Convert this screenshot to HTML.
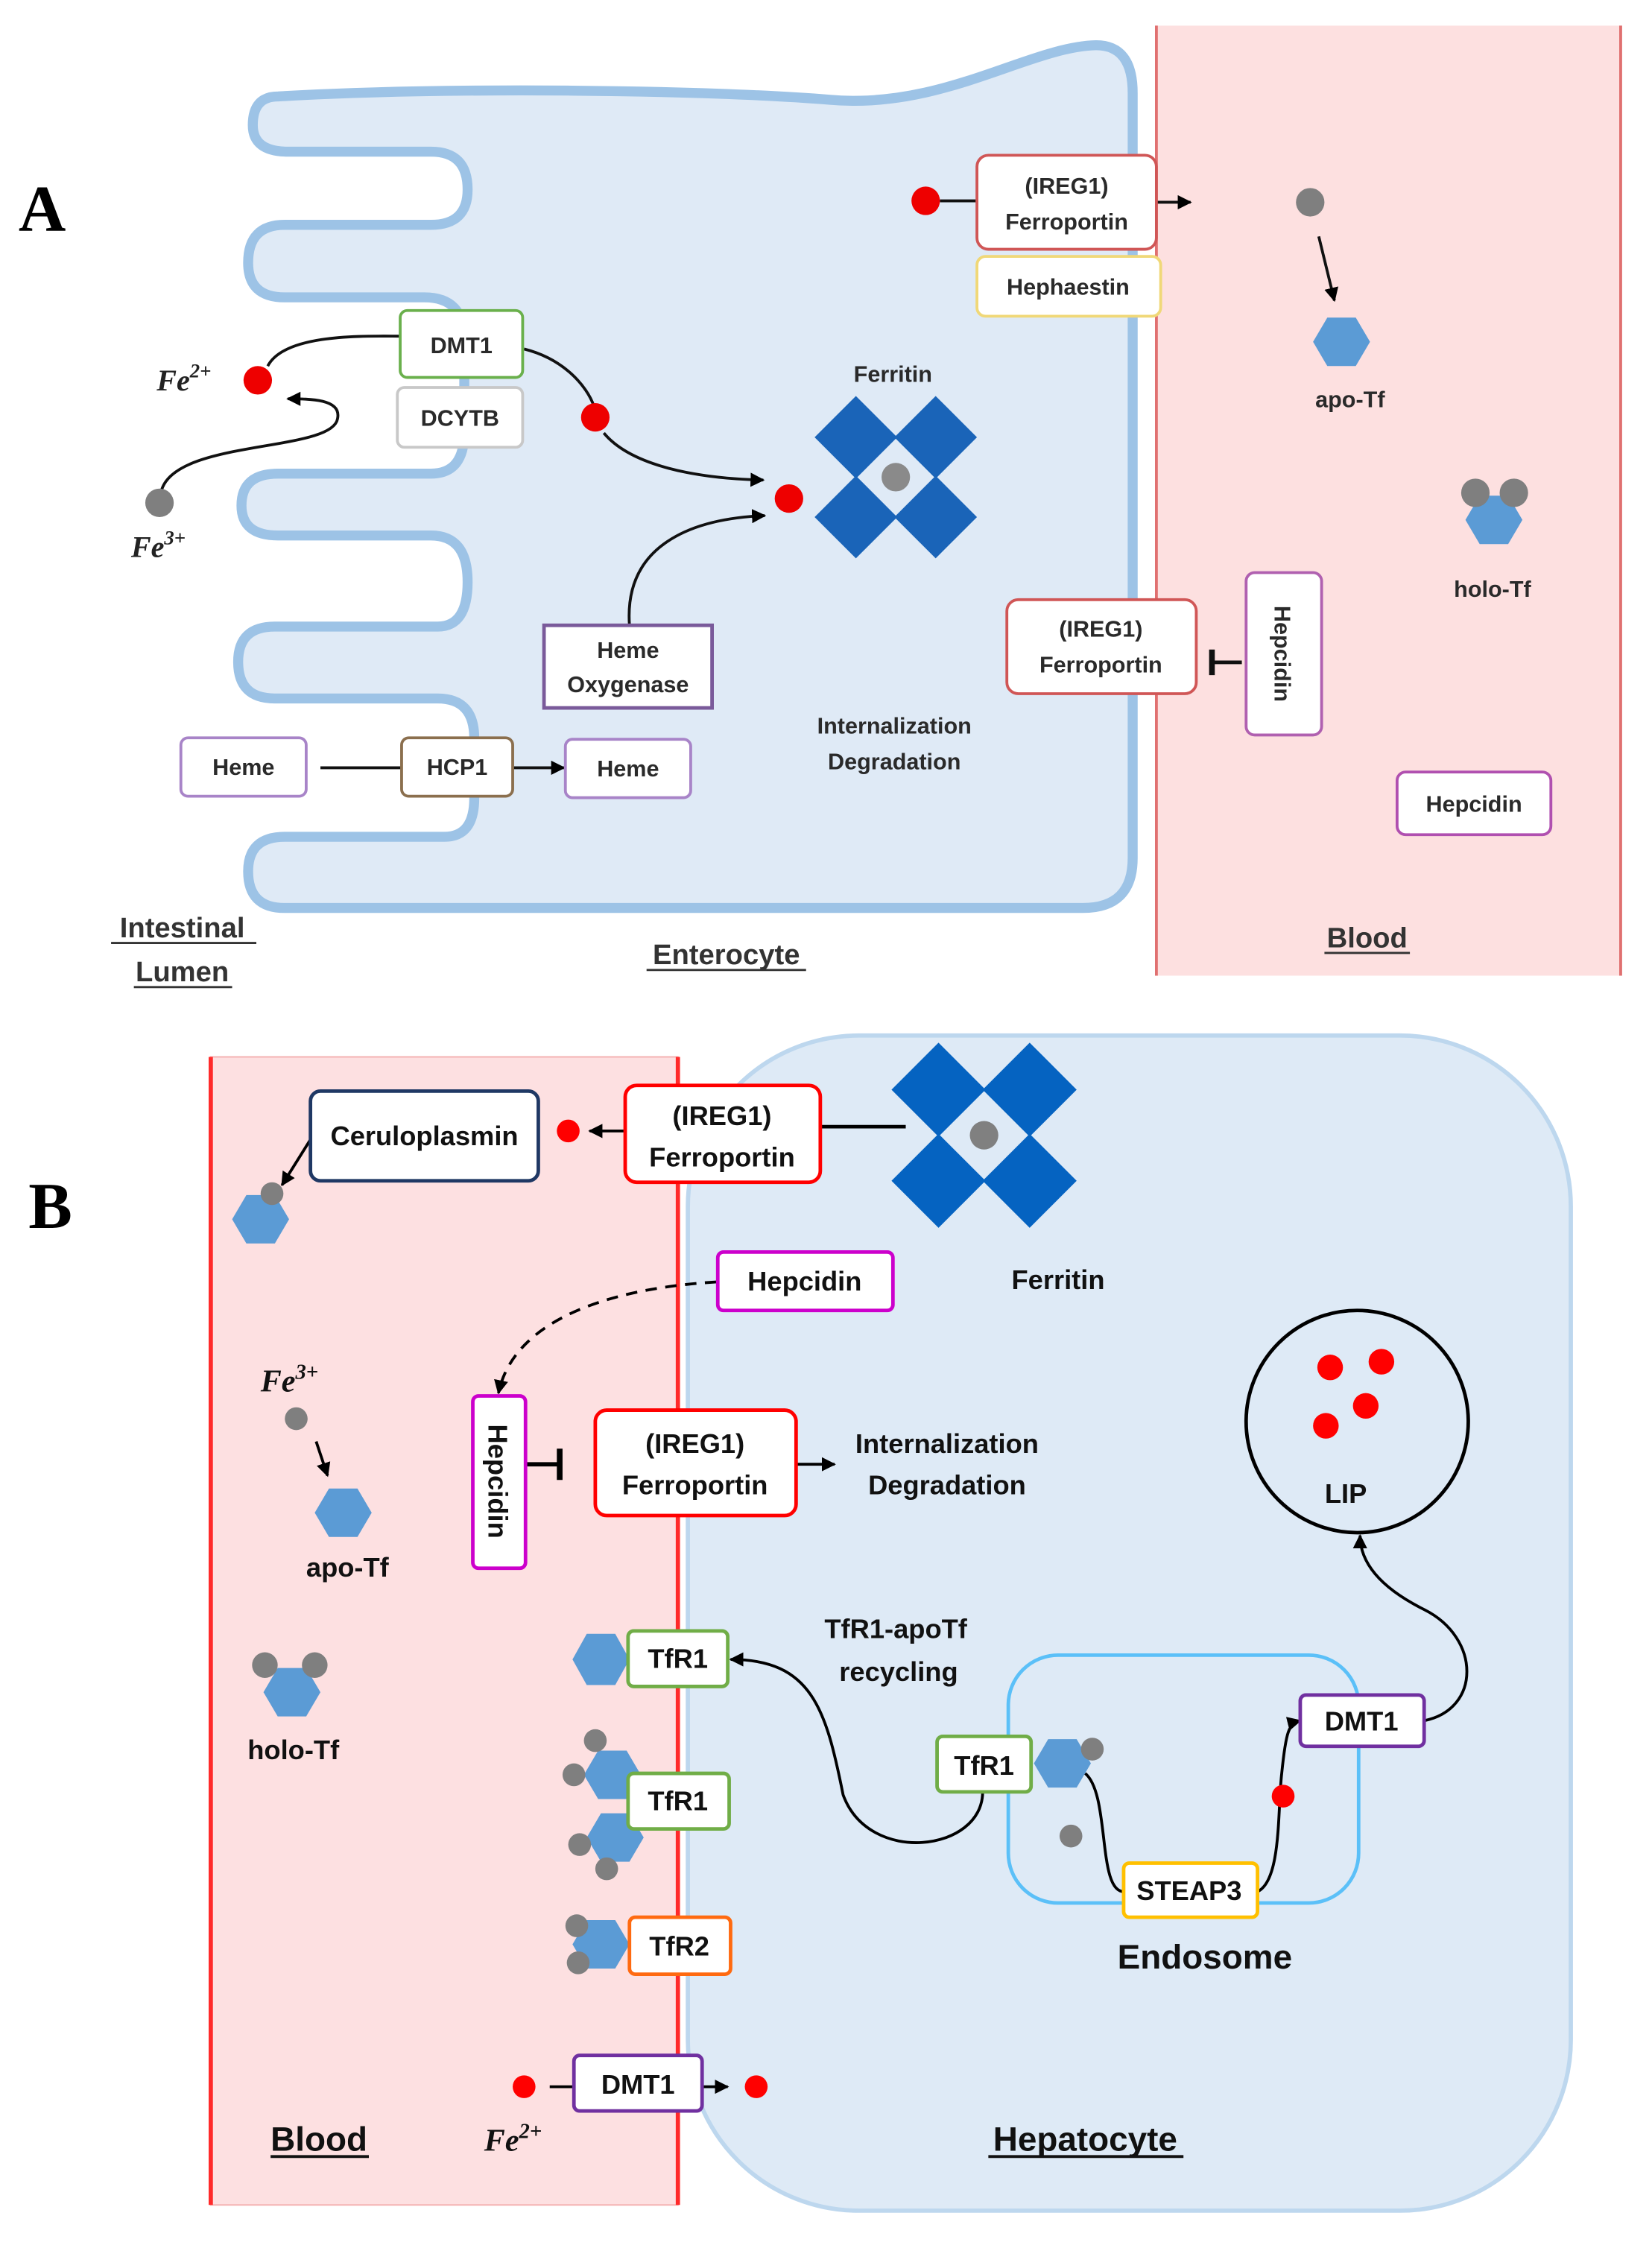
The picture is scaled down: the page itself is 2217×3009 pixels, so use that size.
<!DOCTYPE html>
<html><head><meta charset="utf-8"><style>html,body{margin:0;padding:0;background:#fff}svg{display:block}</style></head>
<body>
<svg width="2217" height="3009" viewBox="0 0 1160 1574" preserveAspectRatio="none" xmlns="http://www.w3.org/2000/svg" font-family="Liberation Sans, sans-serif" font-weight="bold">
<defs>
<marker id="ar" viewBox="0 0 10 10" refX="9" refY="5" markerWidth="5" markerHeight="5" orient="auto"><path d="M0,0 L10,5 L0,10 z" fill="#000"/></marker>
</defs>
<rect width="1160" height="1574" fill="#fff"/>

<!-- ============ PANEL A ============ -->
<text x="13" y="162" font-family="Liberation Serif, serif" font-size="46" fill="#000">A</text>
<rect x="812" y="18" width="327" height="667" fill="#fde0e0"/>
<line x1="812" y1="18" x2="812" y2="685" stroke="#e07070" stroke-width="2"/>
<line x1="1138" y1="18" x2="1138" y2="685" stroke="#e07070" stroke-width="2"/>

<g transform="translate(78.5,0) scale(0.467)">
<path d="M 250,145 C 500,130 900,135 1080,150 C 1250,165 1380,70 1480,68 Q 1535,68 1535,140 L 1535,1290 Q 1535,1365 1460,1365 L 260,1365 Q 205,1365 205,1310 Q 205,1258 260,1258 L 500,1258 Q 545,1258 545,1200 L 545,1110 Q 545,1050 490,1050 L 245,1050 Q 190,1050 190,995 Q 190,942 245,942 L 490,942 Q 535,942 535,875 Q 535,805 480,805 L 250,805 Q 195,805 195,760 Q 195,712 250,712 L 480,712 Q 530,712 530,650 L 530,510 Q 530,447 470,447 L 260,447 Q 205,447 205,395 Q 205,338 260,338 L 480,338 Q 535,338 535,285 Q 535,228 480,228 L 265,228 Q 212,228 212,188 Q 212,145 250,145 Z" fill="#dfeaf6" stroke="#9dc3e6" stroke-width="15"/>
</g>

<!-- connectors A -->
<g fill="none" stroke="#111" stroke-width="2">
<path d="M113,346 C120,308 233,318 237,294 C240,280 218,280 202,280" marker-end="url(#ar)"/>
<path d="M188,257 C200,234 256,236 281,236"/>
<path d="M368,245 C396,252 412,271 417,285"/>
<path d="M424,304 C443,327 489,336 536,337" marker-end="url(#ar)"/>
<path d="M442,439 C438,383 485,364 537,362" marker-end="url(#ar)"/>
<line x1="225" y1="539" x2="282" y2="539"/>
<line x1="360" y1="539" x2="396" y2="539" marker-end="url(#ar)"/>
<line x1="660" y1="141" x2="686" y2="141"/>
<line x1="812" y1="142" x2="836" y2="142" marker-end="url(#ar)"/>
<line x1="926" y1="166" x2="937" y2="211" marker-end="url(#ar)"/>
<line x1="872" y1="465" x2="851" y2="465" stroke-width="2.5"/>
<line x1="851" y1="456" x2="851" y2="474" stroke-width="4"/>
</g>

<!-- dots A -->
<circle cx="181" cy="267" r="10" fill="#e00"/>
<circle cx="112" cy="353" r="10" fill="#7f7f7f"/>
<circle cx="418" cy="293" r="10" fill="#e00"/>
<circle cx="554" cy="350" r="10" fill="#e00"/>
<circle cx="650" cy="141" r="10" fill="#e00"/>
<circle cx="920" cy="142" r="10" fill="#7f7f7f"/>

<text x="110" y="274" font-family="Liberation Serif, serif" font-style="italic" font-size="21" fill="#222">Fe<tspan font-size="14" dy="-9">2+</tspan></text>
<text x="92" y="391" font-family="Liberation Serif, serif" font-style="italic" font-size="21" fill="#222">Fe<tspan font-size="14" dy="-9">3+</tspan></text>

<!-- ferritin A -->
<g fill="#1a64b8">
<polygon points="601,278 630,307 601,336 572,307"/>
<polygon points="657,278 686,307 657,336 628,307"/>
<polygon points="601,334 630,363 601,392 572,363"/>
<polygon points="657,334 686,363 657,392 628,363"/>
</g>
<circle cx="629" cy="335" r="10" fill="#8a8a8a"/>

<!-- boxes A -->
<g stroke-width="2" fill="#fff">
<rect x="281" y="218" width="86" height="47" rx="5" stroke="#6ab04c"/>
<rect x="279" y="272" width="88" height="42" rx="5" stroke="#c8c8c8"/>
<rect x="382" y="439" width="118" height="58" stroke="#7a5a9a" stroke-width="2.5"/>
<rect x="127" y="518" width="88" height="41" rx="5" stroke="#a884c8"/>
<rect x="282" y="518" width="78" height="41" rx="5" stroke="#8b6f4e"/>
<rect x="397" y="519" width="88" height="41" rx="5" stroke="#a884c8"/>
<rect x="686" y="109" width="126" height="66" rx="8" stroke="#d05656"/>
<rect x="686" y="180" width="129" height="42" rx="6" stroke="#f0d878"/>
<rect x="707" y="421" width="133" height="66" rx="8" stroke="#d05656"/>
<rect x="875" y="402" width="53" height="114" rx="6" stroke="#b060b0"/>
<rect x="981" y="542" width="108" height="44" rx="6" stroke="#b050b0"/>
</g>

<g font-size="16" fill="#2a2a2a" text-anchor="middle">
<text x="324" y="248">DMT1</text>
<text x="323" y="299">DCYTB</text>
<text x="441" y="462">Heme</text>
<text x="441" y="486">Oxygenase</text>
<text x="171" y="544">Heme</text>
<text x="321" y="544">HCP1</text>
<text x="441" y="545">Heme</text>
<text x="627" y="268">Ferritin</text>
<text x="628" y="515">Internalization</text>
<text x="628" y="540">Degradation</text>
<text x="749" y="136">(IREG1)</text>
<text x="749" y="161">Ferroportin</text>
<text x="750" y="207">Hephaestin</text>
<text x="773" y="447">(IREG1)</text>
<text x="773" y="472">Ferroportin</text>
<text x="1035" y="570">Hepcidin</text>
<text x="948" y="286">apo-Tf</text>
<text x="1048" y="419">holo-Tf</text>
<text transform="translate(895,459) rotate(90)">Hepcidin</text>
</g>

<polygon points="922,240 932,223 952,223 962,240 952,257 932,257" fill="#5b9bd5"/>
<polygon points="1029,365 1039,348 1059,348 1069,365 1059,382 1039,382" fill="#5b9bd5"/>
<circle cx="1036" cy="346" r="10" fill="#7f7f7f"/>
<circle cx="1063" cy="346" r="10" fill="#7f7f7f"/>

<g font-size="20" fill="#333" text-anchor="middle">
<text x="128" y="658">Intestinal</text>
<text x="128" y="689">Lumen</text>
<text x="510" y="677">Enterocyte</text>
<text x="960" y="665">Blood</text>
</g>
<g stroke="#333" stroke-width="1.5">
<line x1="78" y1="662" x2="180" y2="662"/>
<line x1="94" y1="693" x2="163" y2="693"/>
<line x1="454" y1="681" x2="566" y2="681"/>
<line x1="930" y1="669" x2="990" y2="669"/>
</g>

<!-- ============ PANEL B ============ -->
<text x="20" y="862" font-family="Liberation Serif, serif" font-size="46" fill="#000">B</text>
<rect x="483" y="727" width="620" height="825" rx="120" fill="#deeaf6" stroke="#bdd7ee" stroke-width="3"/>
<rect x="148" y="742" width="328" height="806" fill="#fde0e1" stroke="#f4b0b0" stroke-width="1"/>
<line x1="148" y1="742" x2="148" y2="1548" stroke="#ff2a2a" stroke-width="3"/>
<line x1="476" y1="742" x2="476" y2="1548" stroke="#ff2a2a" stroke-width="3"/>

<!-- endosome -->
<rect x="708" y="1162" width="246" height="174" rx="35" fill="none" stroke="#5bc0f8" stroke-width="2.5"/>
<!-- LIP -->
<circle cx="953" cy="998" r="78" fill="none" stroke="#000" stroke-width="2.5"/>
<circle cx="934" cy="960" r="9" fill="#f00"/>
<circle cx="970" cy="956" r="9" fill="#f00"/>
<circle cx="959" cy="987" r="9" fill="#f00"/>
<circle cx="931" cy="1001" r="9" fill="#f00"/>

<!-- ferritin B -->
<g fill="#0563c1">
<polygon points="659,732 692,765 659,798 626,765"/>
<polygon points="723,732 756,765 723,798 690,765"/>
<polygon points="659,796 692,829 659,862 626,829"/>
<polygon points="723,796 756,829 723,862 690,829"/>
</g>
<circle cx="691" cy="797" r="10" fill="#808080"/>

<!-- connectors B -->
<g fill="none" stroke="#000" stroke-width="2">
<path d="M218,800 L198,832" marker-end="url(#ar)"/>
<line x1="438" y1="794" x2="414" y2="794" marker-end="url(#ar)"/>
<line x1="576" y1="791" x2="636" y2="791" stroke-width="2.5"/>
<path d="M503,900 C420,905 360,930 350,978" stroke-dasharray="8,6" marker-end="url(#ar)"/>
<line x1="370" y1="1028" x2="393" y2="1028" stroke-width="3"/>
<line x1="393" y1="1017" x2="393" y2="1039" stroke-width="4"/>
<line x1="559" y1="1028" x2="586" y2="1028" marker-end="url(#ar)"/>
<line x1="222" y1="1012" x2="230" y2="1036" marker-end="url(#ar)"/>
<path d="M690,1258 C690,1300 610,1310 592,1260 C580,1200 570,1165 513,1165" marker-end="url(#ar)"/>
<path d="M762,1245 C780,1260 770,1330 790,1328"/>
<path d="M883,1328 C900,1320 897,1270 900,1245 C903,1215 905,1210 913,1208" marker-end="url(#ar)"/>
<path d="M1000,1208 C1040,1200 1040,1150 1000,1130 C960,1110 955,1090 955,1078" marker-end="url(#ar)"/>
<line x1="386" y1="1465" x2="403" y2="1465"/>
<line x1="493" y1="1465" x2="511" y2="1465" marker-end="url(#ar)"/>
</g>

<!-- shapes B -->
<g fill="#5b9bd5">
<polygon points="163,856 173,839 193,839 203,856 193,873 173,873"/>
<polygon points="221,1062 231,1045 251,1045 261,1062 251,1079 231,1079"/>
<polygon points="185,1188 195,1171 215,1171 225,1188 215,1205 195,1205"/>
<polygon points="402,1165 412,1147 432,1147 442,1165 432,1183 412,1183"/>
<polygon points="410,1246 420,1229 440,1229 450,1246 440,1263 420,1263"/>
<polygon points="412,1290 422,1273 442,1273 452,1290 442,1307 422,1307"/>
<polygon points="402,1365 412,1348 432,1348 442,1365 432,1382 412,1382"/>
<polygon points="726,1238 736,1221 756,1221 766,1238 756,1255 736,1255"/>
</g>
<g fill="#7f7f7f">
<circle cx="191" cy="838" r="8"/>
<circle cx="208" cy="996" r="8"/>
<circle cx="186" cy="1169" r="9"/>
<circle cx="221" cy="1169" r="9"/>
<circle cx="418" cy="1222" r="8"/>
<circle cx="403" cy="1246" r="8"/>
<circle cx="407" cy="1295" r="8"/>
<circle cx="426" cy="1312" r="8"/>
<circle cx="405" cy="1352" r="8"/>
<circle cx="406" cy="1378" r="8"/>
<circle cx="767" cy="1228" r="8"/>
<circle cx="752" cy="1289" r="8"/>
</g>
<circle cx="399" cy="794" r="8" fill="#f00"/>
<circle cx="368" cy="1465" r="8" fill="#f00"/>
<circle cx="531" cy="1465" r="8" fill="#f00"/>
<circle cx="901" cy="1261" r="8" fill="#f00"/>

<!-- boxes B -->
<g fill="#fff" stroke-width="2.5">
<rect x="218" y="766" width="160" height="63" rx="7" stroke="#1f3864"/>
<rect x="439" y="762" width="137" height="68" rx="8" stroke="#ff0000"/>
<rect x="504" y="879" width="123" height="41" rx="4" stroke="#cc00cc"/>
<rect x="332" y="980" width="37" height="121" rx="4" stroke="#cc00cc"/>
<rect x="418" y="990" width="141" height="74" rx="8" stroke="#ff0000"/>
<rect x="441" y="1145" width="70" height="39" rx="4" stroke="#70ad47"/>
<rect x="441" y="1245" width="71" height="39" rx="4" stroke="#70ad47"/>
<rect x="442" y="1346" width="71" height="40" rx="4" stroke="#ff6a10"/>
<rect x="403" y="1443" width="90" height="39" rx="4" stroke="#7030a0"/>
<rect x="658" y="1219" width="66" height="39" rx="4" stroke="#70ad47"/>
<rect x="789" y="1308" width="94" height="38" rx="4" stroke="#ffc000"/>
<rect x="913" y="1190" width="87" height="36" rx="4" stroke="#7030a0"/>
</g>

<g font-size="19" fill="#111" text-anchor="middle">
<text x="298" y="804">Ceruloplasmin</text>
<text x="507" y="790">(IREG1)</text>
<text x="507" y="819">Ferroportin</text>
<text x="565" y="906">Hepcidin</text>
<text x="743" y="905">Ferritin</text>
<text x="488" y="1020">(IREG1)</text>
<text x="488" y="1049">Ferroportin</text>
<text x="665" y="1020">Internalization</text>
<text x="665" y="1049">Degradation</text>
<text x="945" y="1055">LIP</text>
<text x="244" y="1107">apo-Tf</text>
<text x="206" y="1235">holo-Tf</text>
<text x="629" y="1150">TfR1-apoTf</text>
<text x="631" y="1180">recycling</text>
<text x="476" y="1171">TfR1</text>
<text x="476" y="1271">TfR1</text>
<text x="477" y="1373">TfR2</text>
<text x="691" y="1246">TfR1</text>
<text x="835" y="1334">STEAP3</text>
<text x="956" y="1215">DMT1</text>
<text x="448" y="1470">DMT1</text>
<text transform="translate(343,1040) rotate(90)">Hepcidin</text>
</g>
<text x="846" y="1382" font-size="24" fill="#111" text-anchor="middle">Endosome</text>
<g font-size="24" fill="#111" text-anchor="middle">
<text x="224" y="1510">Blood</text>
<text x="762" y="1510">Hepatocyte</text>
</g>
<g stroke="#111" stroke-width="2">
<line x1="190" y1="1514" x2="259" y2="1514"/>
<line x1="694" y1="1514" x2="831" y2="1514"/>
</g>
<text x="183" y="977" font-family="Liberation Serif, serif" font-style="italic" font-size="22" fill="#111">Fe<tspan font-size="15" dy="-9">3+</tspan></text>
<text x="340" y="1510" font-family="Liberation Serif, serif" font-style="italic" font-size="22" fill="#111">Fe<tspan font-size="15" dy="-9">2+</tspan></text>
</svg>
</body></html>
